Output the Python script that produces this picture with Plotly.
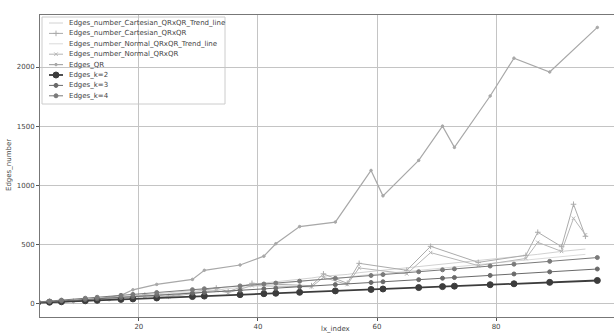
import plotly.graph_objects as go

# ---- data ----
primes = [3, 5, 7, 11, 13, 17, 19, 23, 29, 31, 37, 41, 43, 47, 53, 59, 61, 67, 71, 73, 79, 83, 89, 97]
edges_qr = [3, 5, 11, 30, 39, 68, 115, 161, 203, 280, 325, 400, 505, 650, 688, 1125, 910, 1210, 1500, 1320, 1755, 2075, 1958, 2335]
edges_k2 = [6, 10, 14, 22, 26, 34, 38, 46, 58, 62, 74, 82, 86, 94, 106, 118, 122, 134, 142, 146, 158, 166, 178, 194]
edges_k3 = [9, 15, 21, 33, 39, 51, 57, 69, 87, 93, 111, 123, 129, 141, 159, 177, 183, 201, 213, 219, 237, 249, 267, 291]
edges_k4 = [12, 20, 28, 44, 52, 68, 76, 92, 116, 124, 148, 164, 172, 188, 212, 236, 244, 268, 284, 292, 316, 332, 356, 388]

products = [9, 15, 21, 25, 33, 35, 39, 49, 51, 55, 57, 65, 69, 77, 85, 87, 91, 93, 95]
cart_edges = [18, 40, 70, 60, 130, 100, 170, 150, 250, 170, 339, 280, 483, 347, 407, 602, 480, 839, 568]
cart_trend = [20, 45, 75, 90, 130, 140, 165, 215, 230, 245, 260, 300, 320, 360, 405, 415, 440, 450, 460]
norm_edges = [15, 35, 60, 55, 110, 90, 150, 140, 220, 160, 300, 250, 430, 320, 380, 517, 440, 720, 580]
norm_trend = [18, 40, 65, 80, 115, 125, 150, 195, 205, 220, 235, 270, 290, 325, 365, 375, 395, 405, 415]

legend_names = [
    "Edges_number_Cartesian_QRxQR_Trend_line",
    "Edges_number_Cartesian_QRxQR",
    "Edges_number_Normal_QRxQR_Trend_line",
    "Edges_number_Normal_QRxQR",
    "Edges_QR",
    "Edges_k=2",
    "Edges_k=3",
    "Edges_k=4",
]

x_ticks = [20, 40, 60, 80, 100]
y_ticks = [0, 500, 1000, 1500, 2000]

# ---- styles (one per legend entry, same order) ----
styles = [
    dict(color="#d2d2d2", width=1.0, symbol=None, msize=0),
    dict(color="#ababab", width=1.0, symbol="cross-thin-open", msize=4),
    dict(color="#dadada", width=1.0, symbol=None, msize=0),
    dict(color="#b6b6b6", width=1.0, symbol="x-thin-open", msize=3.5),
    dict(color="#a8a8a8", width=1.2, symbol="circle", msize=2.5),
    dict(color="#3c3c3c", width=1.8, symbol="circle", msize=6),
    dict(color="#6a6a6a", width=1.0, symbol="circle", msize=4),
    dict(color="#7a7a7a", width=1.0, symbol="circle", msize=4),
]

series = [
    (products, cart_trend),
    (products, cart_edges),
    (products, norm_trend),
    (products, norm_edges),
    (primes, edges_qr),
    (primes, edges_k2),
    (primes, edges_k3),
    (primes, edges_k4),
]


def marker_of(st, size=None):
    return dict(symbol=st["symbol"], size=size if size is not None else st["msize"],
                color=st["color"], line=dict(color=st["color"], width=1))


fig = go.Figure()
for name, (xs, ys), st in zip(legend_names, series, styles):
    kw = dict(mode="lines+markers", marker=marker_of(st)) if st["symbol"] else dict(mode="lines")
    fig.add_trace(go.Scatter(x=xs, y=ys, name=name, showlegend=False,
                             line=dict(color=st["color"], width=st["width"]), **kw))

# ---- compact legend box drawn on an overlay [0,1] axis pair ----
W, H = 614, 335
L, R, T, B = 40, 0, 15, 18
pw, ph = W - L - R, H - T - B


def px_x(px):
    return (px - L) / pw


def px_y(py):
    return (H - B - py) / ph


shapes = [dict(type="rect", xref="paper", yref="paper",
               x0=px_x(42), x1=px_x(225), y0=px_y(104), y1=px_y(17),
               line=dict(color="#cccccc", width=1), fillcolor="rgba(255,255,255,0.8)",
               layer="between")]
annotations = []
for i, (name, st) in enumerate(zip(legend_names, styles)):
    yy = px_y(23 + i * 10.4)
    fig.add_trace(go.Scatter(x=[px_x(49), px_x(63)], y=[yy, yy], xaxis="x2", yaxis="y2",
                             mode="lines", showlegend=False, hoverinfo="skip",
                             line=dict(color=st["color"], width=st["width"])))
    if st["symbol"]:
        fig.add_trace(go.Scatter(x=[px_x(56)], y=[yy], xaxis="x2", yaxis="y2",
                                 mode="markers", showlegend=False, hoverinfo="skip",
                                 marker=marker_of(st)))
    annotations.append(dict(x=px_x(67), y=yy, xref="paper", yref="paper", text=name,
                            showarrow=False, xanchor="left", yanchor="middle",
                            font=dict(size=7, color="#444444")))

annotations.append(dict(x=px_x(335), y=px_y(329), xref="paper", yref="paper", text="lx_index",
                        showarrow=False, xanchor="center", yanchor="middle",
                        font=dict(size=7, color="#444444")))
annotations.append(dict(x=px_x(9), y=px_y(165), xref="paper", yref="paper", text="Edges_number",
                        showarrow=False, textangle=-90, xanchor="center", yanchor="middle",
                        font=dict(size=7, color="#444444")))

fig.update_layout(
    width=W, height=H,
    margin=dict(l=L, r=R, t=T, b=B, pad=0),
    paper_bgcolor="white", plot_bgcolor="white",
    font=dict(family="DejaVu Sans", size=7, color="#444444"),
    shapes=shapes, annotations=annotations,
    xaxis=dict(range=[3.4, 99.8], tickvals=x_ticks, ticks="outside", ticklen=3,
               tickcolor="#555555", showgrid=True, gridcolor="#c4c4c4", gridwidth=1,
               showline=True, linecolor="#777777", mirror=True, zeroline=False),
    yaxis=dict(range=[-115, 2440], tickvals=y_ticks, ticks="outside", ticklen=3,
               tickcolor="#555555", showgrid=True, gridcolor="#c4c4c4", gridwidth=1,
               showline=True, linecolor="#777777", mirror=True, zeroline=False),
    xaxis2=dict(overlaying="x", range=[0, 1], visible=False),
    yaxis2=dict(overlaying="y", range=[0, 1], visible=False),
)

fig.write_html("out.html")
